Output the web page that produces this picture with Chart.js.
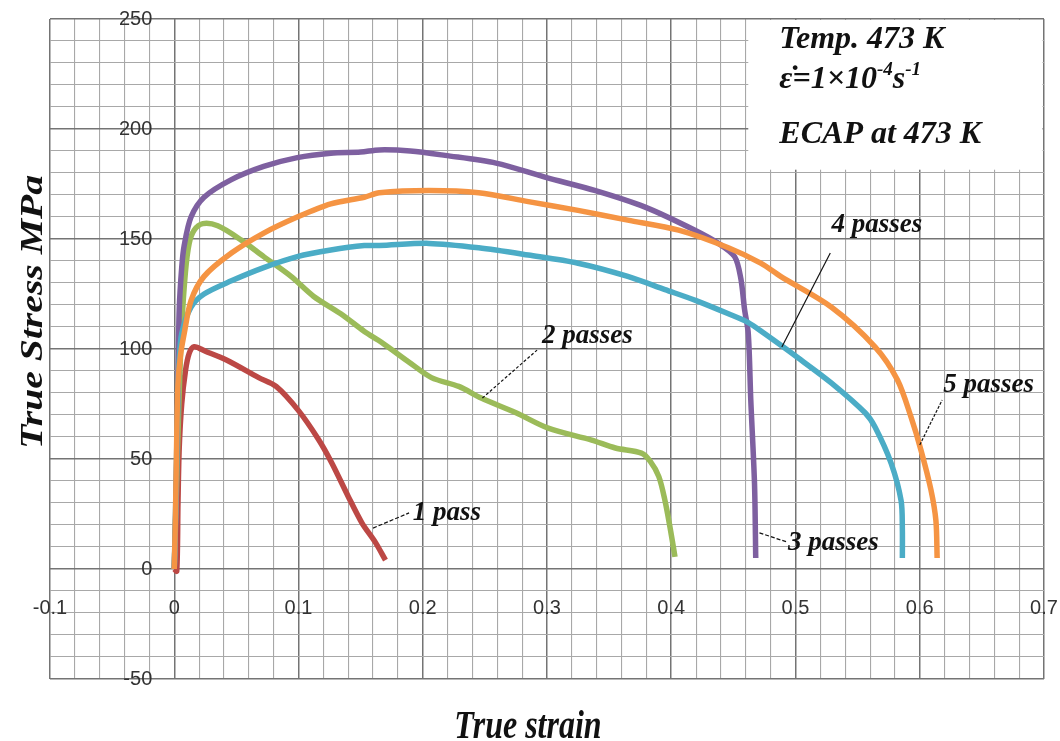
<!DOCTYPE html>
<html><head><meta charset="utf-8">
<script src="https://cdn.jsdelivr.net/npm/chart.js@4.4.1/dist/chart.umd.min.js"></script>
<style>html,body{margin:0;padding:0;background:#fff;overflow:hidden}canvas{display:block}</style>
</head><body>
<canvas id="c" width="1060" height="741"></canvas>
<script>
// ---- data ----
const seriesNames = ['1 pass', '2 passes', '3 passes', '4 passes', '5 passes'];
const seriesColors = ['#BC4845', '#9BBB59', '#7E60A0', '#4BACC6', '#F59443'];

const strain1 = [0, 0.002, 0.003, 0.004, 0.006, 0.009, 0.012, 0.016, 0.025, 0.042, 0.068, 0.082, 0.100, 0.116, 0.127, 0.140, 0.151, 0.162, 0.170];
const stress1 = [0, -1, 30, 55, 75, 90, 98, 101, 99, 95, 87, 83, 72, 59, 48, 33, 21, 12, 4];

const strain2 = [0, 0.002, 0.004, 0.006, 0.009, 0.012, 0.016, 0.023, 0.035, 0.054, 0.072, 0.094, 0.112, 0.134, 0.153, 0.167, 0.189, 0.207, 0.229, 0.247, 0.275, 0.301, 0.336, 0.355, 0.376, 0.383, 0.390, 0.395, 0.399, 0.403];
const stress2 = [0, 40, 80, 110, 135, 148, 154, 157, 156, 149.5, 142, 133, 124, 116, 108, 103, 94, 87, 83, 77.7, 71, 64, 58.6, 55, 52.7, 49, 42, 31, 19, 5.5];

const strain3 = [0, 0.001, 0.002, 0.003, 0.004, 0.006, 0.008, 0.0135, 0.024, 0.046, 0.072, 0.099, 0.126, 0.150, 0.165, 0.190, 0.218, 0.259, 0.299, 0.339, 0.379, 0.419, 0.438, 0.451, 0.456, 0.459, 0.462, 0.464, 0.467, 0.468];
const stress3 = [0, 20, 50, 85, 118, 137, 147, 160, 169, 177, 183, 187, 189, 189.5, 190.5, 190, 188, 184.5, 178, 172, 164.5, 154, 148, 142, 132, 118, 107, 77, 39, 5];

const strain4 = [0, 0.001, 0.002, 0.003, 0.004, 0.006, 0.0135, 0.024, 0.046, 0.072, 0.099, 0.126, 0.153, 0.165, 0.205, 0.245, 0.285, 0.325, 0.365, 0.395, 0.420, 0.446, 0.462, 0.475, 0.502, 0.529, 0.556, 0.564, 0.577, 0.585, 0.586, 0.586];
const stress4 = [0, 25, 55, 80, 95, 107, 119, 125, 131, 137, 142, 145, 147, 147, 148, 146, 142.7, 139, 133, 127, 122, 116, 112, 107, 96, 84.5, 71, 64.5, 48, 31, 18, 5];

const strain5 = [0, 0.001, 0.002, 0.003, 0.005, 0.008, 0.0135, 0.024, 0.046, 0.072, 0.099, 0.126, 0.153, 0.165, 0.205, 0.245, 0.285, 0.325, 0.365, 0.406, 0.446, 0.472, 0.488, 0.529, 0.564, 0.582, 0.593, 0.601, 0.609, 0.613, 0.614];
const stress5 = [0, 25, 60, 84, 97, 107, 122, 133, 143.6, 152.7, 160, 166, 169, 171, 172, 171, 167, 163, 158.6, 154, 146, 139, 133, 119, 101, 86, 69, 54, 36, 22, 5];

const xTickLabels = ['-0.1', '0', '0.1', '0.2', '0.3', '0.4', '0.5', '0.6', '0.7'];
const yTickLabels = ['-50', '0', '50', '100', '150', '200', '250'];

const xTitle = 'True strain';
const yTitle = 'True Stress MPa';
const infoLines = ['Temp. 473 K', 'ECAP at 473 K'];

// annotation label anchors (data units): text pos and leader line
const labelPos = [
  {t: '1 pass',   tx: 0.192, ty: 22.3,  lx0: 0.160, ly0: 18.6,  lx1: 0.189, ly1: 25.5, dash: [4, 2]},
  {t: '2 passes', tx: 0.296, ty: 102.7, lx0: 0.248, ly0: 77.7,  lx1: 0.292, ly1: 99.5, dash: [3, 2]},
  {t: '3 passes', tx: 0.494, ty: 8.6,   lx0: 0.471, ly0: 16.4,  lx1: 0.493, ly1: 12.3, dash: [4, 2]},
  {t: '4 passes', tx: 0.529, ty: 153.2, lx0: 0.489, ly0: 100.9, lx1: 0.528, ly1: 143.6, dash: []},
  {t: '5 passes', tx: 0.619, ty: 80.5,  lx0: 0.600, ly0: 56.4,  lx1: 0.618, ly1: 76.8, dash: [3, 1.5]}
];

// ---- build ----
const strains = [strain1, strain2, strain3, strain4, strain5];
const stresses = [stress1, stress2, stress3, stress4, stress5];
const datasets = seriesNames.map((n, i) => ({
  label: n,
  data: strains[i].map((v, k) => ({x: v, y: stresses[i][k]})),
  borderColor: seriesColors[i],
  backgroundColor: seriesColors[i],
  borderWidth: 5.5,
  pointRadius: 0,
  tension: 0.3,
  fill: false,
  borderJoinStyle: 'round',
  order: 5 - i
}));

const isMajorX = v => Math.abs(v * 10 - Math.round(v * 10)) < 1e-6;
const isMajorY = v => Math.abs(v / 50 - Math.round(v / 50)) < 1e-6;
const MAJOR = '#747474', MINOR = '#a8a8a8';
const SERIF = '"Liberation Serif", "Times New Roman", serif';

// place tick labels next to the zero lines (axes cross at 0,0)
const crossPlugin = {
  id: 'cross',
  afterLayout(chart) {
    const {x, y} = chart.scales;
    y.left = 0;
    y.right = x.getPixelForValue(0) - 22;
    x.top = y.getPixelForValue(0) + 27;
    x.bottom = chart.height;
  }
};

const annoPlugin = {
  id: 'anno',
  beforeDatasetsDraw(chart) {
    const {ctx, scales: {x, y}, chartArea: a} = chart;
    const l = x.getPixelForValue(0.462), b = y.getPixelForValue(181.5);
    ctx.save();
    ctx.fillStyle = '#fff';
    ctx.fillRect(l, a.top + 1, a.right - 1.5 - l, b - a.top - 1);
    ctx.restore();
  },
  afterDatasetsDraw(chart) {
    const {ctx, scales: {x, y}} = chart;
    ctx.save();
    labelPos.forEach(p => {
      ctx.strokeStyle = '#111';
      ctx.lineWidth = 1.2;
      ctx.setLineDash(p.dash);
      ctx.beginPath();
      ctx.moveTo(x.getPixelForValue(p.lx0), y.getPixelForValue(p.ly0));
      ctx.lineTo(x.getPixelForValue(p.lx1), y.getPixelForValue(p.ly1));
      ctx.stroke();
      ctx.setLineDash([]);
      ctx.fillStyle = '#111';
      ctx.font = 'italic bold 27px ' + SERIF;
      ctx.textAlign = 'left';
      ctx.textBaseline = 'alphabetic';
      ctx.fillText(p.t, x.getPixelForValue(p.tx), y.getPixelForValue(p.ty));
    });
    const bx = x.getPixelForValue(0.487);
    ctx.fillStyle = '#111';
    ctx.font = 'italic bold 32px ' + SERIF;
    ctx.fillText(infoLines[0], bx, y.getPixelForValue(236.8));
    ctx.fillText(infoLines[1], bx, y.getPixelForValue(193.6));
    const yy = y.getPixelForValue(218.6);
    let xx = bx;
    const part = (s, size, dy) => {
      ctx.font = 'italic bold ' + size + 'px ' + SERIF;
      ctx.fillText(s, xx, yy - dy);
      xx += ctx.measureText(s).width;
    };
    part('\u03B5\u0307=1\u00D710', 32, 0);
    part('-4', 19, 13);
    part('s', 32, 0);
    part('-1', 19, 13);
    ctx.restore();
  },
  afterDraw(chart) {
    const {ctx} = chart;
    ctx.save();
    ctx.fillStyle = '#111';
    ctx.font = 'italic bold 32px ' + SERIF;
    ctx.textAlign = 'center';
    ctx.textBaseline = 'alphabetic';
    ctx.save();
    ctx.translate(528, 738);
    ctx.scale(1, 1.27);
    ctx.fillText(xTitle, 0, 0);
    ctx.restore();
    ctx.save();
    ctx.translate(42, 312);
    ctx.rotate(-Math.PI / 2);
    ctx.scale(1.24, 1);
    ctx.fillText(yTitle, 0, 0);
    ctx.restore();
    ctx.restore();
  }
};

new Chart(document.getElementById('c'), {
  type: 'line',
  data: {datasets},
  plugins: [crossPlugin, annoPlugin],
  options: {
    responsive: false,
    animation: false,
    devicePixelRatio: 1,
    layout: {padding: {left: 50, right: 16, top: 19, bottom: 62}, autoPadding: false},
    plugins: {legend: {display: false}, tooltip: {enabled: false}, title: {display: false}},
    scales: {
      x: {
        type: 'linear', position: 'bottom', min: -0.1, max: 0.7,
        afterFit(s) { s.height = 0; s.paddingLeft = 0; s.paddingRight = 0; },
        grid: {
          drawTicks: false,
          color: c => (c.tick && isMajorX(c.tick.value)) ? MAJOR : MINOR,
          lineWidth: c => (c.tick && isMajorX(c.tick.value)) ? 1.5 : 1.1
        },
        border: {display: false},
        ticks: {
          stepSize: 0.02, autoSkip: false, maxRotation: 0, minRotation: 0,
          padding: 0, color: '#333',
          font: {family: '"Liberation Sans", Arial, sans-serif', size: 20},
          callback: v => isMajorX(v) ? xTickLabels[Math.round((v + 0.1) * 10)] : ''
        }
      },
      y: {
        type: 'linear', position: 'left', min: -50, max: 250,
        afterFit(s) { s.width = 0; s.paddingTop = 0; s.paddingBottom = 0; },
        grid: {
          drawTicks: false,
          color: c => (c.tick && isMajorY(c.tick.value)) ? MAJOR : MINOR,
          lineWidth: c => (c.tick && isMajorY(c.tick.value)) ? 1.5 : 1.1
        },
        border: {display: false},
        ticks: {
          stepSize: 10, autoSkip: false,
          padding: 0, color: '#333',
          font: {family: '"Liberation Sans", Arial, sans-serif', size: 20},
          callback: v => isMajorY(v) ? yTickLabels[Math.round((v + 50) / 50)] : ''
        }
      }
    }
  }
});
</script>
</body></html>
